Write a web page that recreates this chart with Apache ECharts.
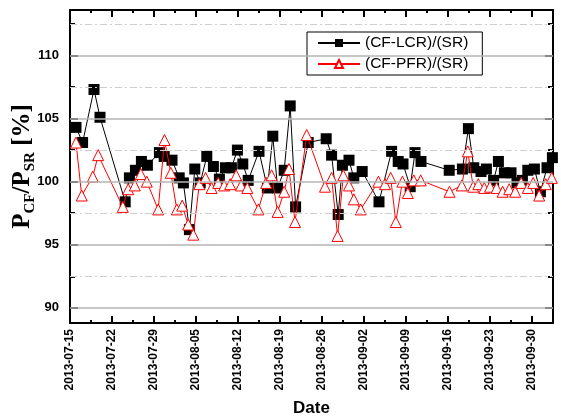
<!DOCTYPE html>
<html>
<head>
<meta charset="utf-8">
<script src="https://cdn.jsdelivr.net/npm/echarts@6/dist/echarts.min.js"></script>
<style>html,body{margin:0;padding:0;background:#fff;}#c{width:561px;height:418px;}</style>
</head>
<body>
<div id="c"></div>
<script>
// x values: days since 2013-07-15
const lcrDays = [1.0,2.1,4.0,5.0,9.2,9.9,10.9,11.9,12.9,14.9,15.7,17.0,18.2,18.9,19.9,20.8,21.7,22.8,23.9,24.9,25.9,26.9,27.9,28.8,29.7,31.5,32.9,33.8,34.6,35.7,36.7,37.6,39.7,42.7,43.6,44.7,45.4,46.5,47.3,48.7,51.5,53.6,54.7,55.5,56.7,57.5,58.5,63.2,65.4,66.4,67.3,68.5,69.4,70.6,71.4,72.4,73.5,74.5,75.4,76.3,77.4,78.4,79.5,80.4];
const lcrValues = [104.3,103.1,107.3,105.1,98.4,100.3,100.9,101.6,101.3,102.3,102.0,101.7,100.3,99.9,96.2,101.0,99.9,102.0,101.2,100.2,101.1,101.1,102.5,101.4,100.1,102.4,99.5,103.6,99.5,100.9,106.0,98.0,103.1,103.4,102.1,97.4,101.3,101.7,100.3,100.8,98.4,102.4,101.6,101.4,99.6,102.3,101.6,100.9,101.0,104.2,101.1,100.8,101.0,100.1,101.6,100.7,100.7,99.9,100.1,100.9,101.0,99.2,101.1,101.9];
const pfrDays = [1.0,1.95,3.8,4.7,8.8,9.7,10.8,11.8,12.8,14.7,15.75,16.8,17.8,18.7,19.7,20.55,21.55,22.6,23.6,24.7,25.7,26.7,27.7,28.5,29.55,31.4,32.7,33.6,34.6,35.7,36.5,37.5,39.45,42.5,43.6,44.6,45.55,46.5,47.3,48.45,51.4,52.5,53.45,54.3,55.4,56.3,57.3,58.45,63.25,65.3,66.3,67.2,68.05,69.05,70.0,71.1,72.1,73.2,74.2,75.2,76.3,77.2,78.2,79.3,80.3];
const pfrValues = [103.1,98.9,100.4,102.1,98.0,99.4,99.7,100.6,100.0,97.8,103.3,100.7,97.8,98.1,96.6,95.8,99.8,100.3,99.5,99.9,99.7,99.8,100.5,99.7,99.5,97.8,99.9,100.5,97.6,99.2,101.0,96.8,103.7,99.6,100.3,95.7,100.5,99.7,98.6,97.8,100.0,99.8,100.3,96.8,100.0,99.1,100.1,100.1,99.2,99.7,102.4,99.6,99.8,99.5,99.6,99.5,99.2,99.4,99.2,99.9,99.5,99.9,98.9,99.8,100.3];
const yMajorTicks = [90,95,100,105,110];
const yMinorTicks = [92.5,97.5,102.5,107.5,112.5];
const seriesNames = ['(CF-LCR)/(SR)','(CF-PFR)/(SR)'];
const baseDate = Date.UTC(2013,6,15);

function fmtDate(v){
  const d = new Date(baseDate + Math.round(v)*86400000);
  const m = String(d.getUTCMonth()+1).padStart(2,'0');
  const dd = String(d.getUTCDate()).padStart(2,'0');
  return d.getUTCFullYear()+'-'+m+'-'+dd;
}

const chart = echarts.init(document.getElementById('c'));
const axisLine = {show:true, lineStyle:{color:'#000', width:2}};
const xCommon = {
  type:'value', min:0, max:80.5, interval:7,
  axisLine: axisLine,
  axisTick:{show:true, inside:true, length:7, lineStyle:{color:'#000', width:2}},
  minorTick:{show:true, splitNumber:2, length:3, lineStyle:{color:'#000', width:2}},
  splitLine:{show:false}, minorSplitLine:{show:false}
};
const yCommon = {
  type:'value', min:88.8, max:113.6,
  axisLine: axisLine,
  splitLine:{show:false}
};
const option = {
  animation:false,
  backgroundColor:'#fff',
  grid:{left:70, right:8, top:10, bottom:95, containLabel:false, outerBoundsMode:'none'},
  legend:{
    orient:'vertical', left:307, top:32,
    backgroundColor:'#fff', borderColor:'#000', borderWidth:1,
    padding:[3,14,3,10], itemGap:5, itemWidth:42, itemHeight:10,
    textStyle:{fontFamily:'Liberation Sans', fontSize:15.5, color:'#000'},
    data: seriesNames
  },
  xAxis:[
    Object.assign({}, xCommon, {
      position:'bottom',
      name:'Date', nameLocation:'middle', nameGap:77, nameMoveOverlap:false,
      nameTextStyle:{fontFamily:'Liberation Sans', fontWeight:'bold', fontSize:17, color:'#000'},
      axisLabel:{rotate:90, margin:6, showMaxLabel:false, fontFamily:'Liberation Sans', fontWeight:'bold', fontSize:12, color:'#000', formatter:fmtDate}
    }),
    Object.assign({}, xCommon, {position:'top', axisLabel:{show:false}})
  ],
  yAxis:[
    Object.assign({}, yCommon, {
      position:'left',
      axisTick:{show:true, inside:true, length:8, customValues:yMajorTicks, lineStyle:{color:'#000', width:2}},
      axisLabel:{customValues:yMajorTicks, margin:11, fontFamily:'Liberation Sans', fontWeight:'bold', fontSize:13, color:'#000'},
      name:'{p|P}{s|CF}{p|/P}{s|SR}{p| [%]}', nameLocation:'middle', nameGap:34, nameMoveOverlap:false,
      nameTextStyle:{rich:{
        p:{fontFamily:'Liberation Serif', fontWeight:'bold', fontSize:25, color:'#000', lineHeight:26, verticalAlign:'top'},
        s:{fontFamily:'Liberation Serif', fontWeight:'bold', fontSize:15, color:'#000', lineHeight:16, verticalAlign:'top', padding:[13,0,0,0]}
      }}
    }),
    Object.assign({}, yCommon, {
      position:'left',
      axisLine:{show:false},
      axisTick:{show:true, inside:true, length:5, customValues:yMinorTicks, lineStyle:{color:'#000', width:2}},
      axisLabel:{show:false}
    }),
    Object.assign({}, yCommon, {
      position:'right',
      axisTick:{show:true, inside:true, length:8, customValues:yMajorTicks, lineStyle:{color:'#000', width:2}},
      axisLabel:{show:false}
    }),
    Object.assign({}, yCommon, {
      position:'right',
      axisLine:{show:false},
      axisTick:{show:true, inside:true, length:5, customValues:yMinorTicks, lineStyle:{color:'#000', width:2}},
      axisLabel:{show:false}
    })
  ],
  series:[
    {
      name:'grid', type:'line', data:[], silent:true, z:1,
      markLine:{
        silent:true, symbol:'none', label:{show:false}, animation:false,
        data: yMajorTicks.map(v=>({yAxis:v, lineStyle:{color:'#b4b4b4', width:1.6, type:'solid'}}))
          .concat(yMinorTicks.map(v=>({yAxis:v, lineStyle:{color:'#cfcfcf', width:1.2, type:[7,3,2,3]}})))
      }
    },
    {
      name:seriesNames[0], type:'line', z:3,
      data: lcrDays.map((d,i)=>[d, lcrValues[i]]),
      symbol:'rect', symbolSize:11,
      lineStyle:{color:'#000', width:1},
      itemStyle:{color:'#000'}
    },
    {
      name:seriesNames[1], type:'line', z:4,
      data: pfrDays.map((d,i)=>[d, pfrValues[i]]),
      symbol:'triangle', symbolSize:11,
      lineStyle:{color:'#ff0000', width:1},
      itemStyle:{color:'#fff', borderColor:'#ff0000', borderWidth:1}
    }
  ]
};
chart.setOption(option);
</script>
</body>
</html>
